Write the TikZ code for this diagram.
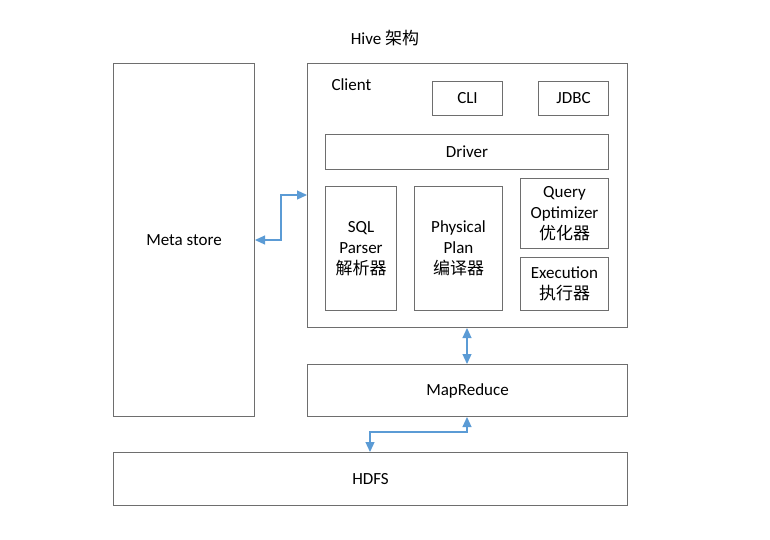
\documentclass[tikz,border=0pt]{standalone}
\usepackage{fontspec}
\setmainfont{Carlito}
\newfontfamily\cjk{Noto Sans CJK SC}
\usetikzlibrary{arrows.meta}
\definecolor{boxline}{HTML}{6E6E6E}
\definecolor{arrowblue}{HTML}{5B9BD5}
\begin{document}
\begin{tikzpicture}[x=1pt,y=-1pt,
  box/.style={draw=boxline, line width=1pt, fill=white},
  lbl/.style={font=\fontsize{17}{21}\selectfont, text=black, align=center},
  arr/.style={draw=arrowblue, line width=1.2pt, {Triangle[length=10pt,width=9pt]}-{Triangle[length=10pt,width=9pt]}}
]
\useasboundingbox (0,0) rectangle (770,539);
% boxes
\node[box, minimum width=141pt, minimum height=353pt, anchor=north west] (meta) at (113,63) {};
\node[lbl] at (meta.center) {Meta store};
\node[box, minimum width=320pt, minimum height=264pt, anchor=north west] (client) at (307,63) {};
\node[lbl, anchor=west] (clientlbl) at (328,85) {Client};
\node[box, lbl, minimum width=70pt, minimum height=34pt, anchor=north west] (cli) at (432,81) {CLI};
\node[box, lbl, minimum width=70pt, minimum height=34pt, anchor=north west] (jdbc) at (538,81) {JDBC};
\node[box, lbl, minimum width=283pt, minimum height=35pt, anchor=north west] (driver) at (325,134) {Driver};
\node[box, lbl, minimum width=71pt, minimum height=124pt, anchor=north west] (sql) at (325,186) {SQL\\Parser\\{\cjk 解析器}};
\node[box, lbl, minimum width=88pt, minimum height=124pt, anchor=north west] (plan) at (414,186) {Physical\\Plan\\{\cjk 编译器}};
\node[box, lbl, minimum width=88pt, minimum height=70pt, anchor=north west, inner sep=1pt] (opt) at (520,178) {Query\\Optimizer\\{\cjk 优化器}};
\node[box, lbl, minimum width=88pt, minimum height=53pt, anchor=north west, inner sep=1pt] (exec) at (520,257) {Execution\\{\cjk 执行器}};
\node[box, lbl, minimum width=320pt, minimum height=52pt, anchor=north west] (mr) at (307,364) {MapReduce};
\node[box, lbl, minimum width=514pt, minimum height=53pt, anchor=north west] (hdfs) at (113,452) {HDFS};
\node[lbl] (title) at (385,38) {Hive {\cjk 架构}};
% connectors
\coordinate (m1) at (281,240);
\coordinate (m2) at (281,195);
\draw[arr] (meta.east |- m1) -- (m1) -- (m2) -- (client.west |- m2);
\coordinate (c1) at (467,0);
\draw[arr] (client.south -| c1) -- (mr.north -| c1);
\coordinate (h1) at (467,432);
\coordinate (h2) at (370,432);
\draw[arr] (mr.south -| h1) -- (h1) -- (h2) -- (hdfs.north -| h2);
\end{tikzpicture}
\end{document}
